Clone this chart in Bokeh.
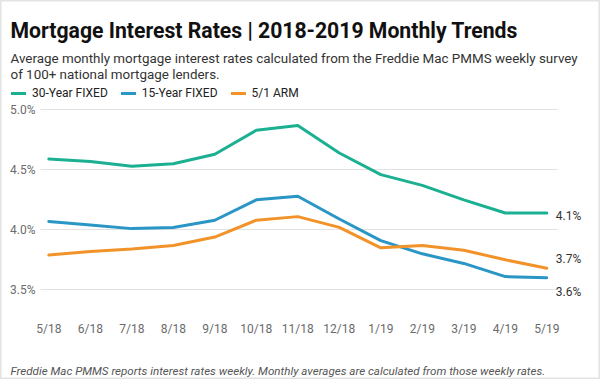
from bokeh.plotting import figure
from bokeh.models import (Label, Legend, LegendItem, FixedTicker, Range1d, ColumnDataSource)
from bokeh.core.properties import value
from bokeh.embed import file_html
from bokeh.resources import INLINE

# ---------------- data ----------------
months = ["5/18", "6/18", "7/18", "8/18", "9/18", "10/18", "11/18",
          "12/18", "1/19", "2/19", "3/19", "4/19", "5/19"]
fixed30 = [4.59, 4.57, 4.53, 4.55, 4.63, 4.83, 4.87, 4.64, 4.46, 4.37, 4.25, 4.14, 4.14]
fixed15 = [4.07, 4.04, 4.01, 4.02, 4.08, 4.25, 4.28, 4.09, 3.91, 3.80, 3.72, 3.61, 3.60]
arm51 = [3.79, 3.82, 3.84, 3.87, 3.94, 4.08, 4.11, 4.02, 3.85, 3.87, 3.83, 3.75, 3.68]
series_names = ["30-Year FIXED", "15-Year FIXED", "5/1 ARM"]
y_ticks = [3.5, 4.0, 4.5, 5.0]
y_tick_labels = [f"{t:.1f}%" for t in y_ticks]

title_text = "Mortgage Interest Rates | 2018-2019 Monthly Trends"
subtitle_lines = ["Average monthly mortgage interest rates calculated from the Freddie Mac PMMS weekly survey",
                  "of 100+ national mortgage lenders."]
footer_text = "Freddie Mac PMMS reports interest rates weekly. Monthly averages are calculated from those weekly rates."

# ---------------- layout / style ----------------
colors = ["#1bb092", "#2996c5", "#f2932a"]
FONT = "Roboto"
W, H = 600, 379
X_RANGE = (-1.164, 13.294)
Y_RANGE = (2.7527, 5.911)
GRID_X = (-0.2, 12.258)            # horizontal extent of the grid lines
AXIS_Y = 3.3277                    # where the month axis sits

x = list(range(len(months)))

p = figure(width=W, height=H, output_backend="svg", toolbar_location=None, title=None,
           x_range=Range1d(*X_RANGE), y_range=Range1d(*Y_RANGE),
           min_border_left=0, min_border_right=0, min_border_top=0, min_border_bottom=0)
p.outline_line_color = "#e3e3e3"
p.outline_line_width = 2
p.background_fill_color = "white"
p.border_fill_color = "white"
p.xgrid.grid_line_color = None
p.ygrid.ticker = FixedTicker(ticks=y_ticks)
p.ygrid.grid_line_color = "#e2e2e2"
p.ygrid.grid_line_width = 1
p.ygrid.cross_bounds = GRID_X
p.yaxis.visible = False

p.xaxis.ticker = FixedTicker(ticks=x)
p.xaxis.major_label_overrides = {i: m for i, m in enumerate(months)}
xa = p.xaxis[0]
xa.fixed_location = AXIS_Y
xa.axis_line_color = None
xa.major_tick_line_color = None
xa.minor_tick_line_color = None
xa.major_tick_out = 0
xa.major_tick_in = 0
xa.major_label_text_font = FONT
xa.major_label_text_font_size = "12px"
xa.major_label_text_color = "#6b6b6b"
xa.major_label_standoff = 12

# y tick labels, placed left of the grid start
ysrc = ColumnDataSource(dict(x=[GRID_X[0]] * len(y_ticks), y=y_ticks, t=y_tick_labels))
p.text(x="x", y="y", text="t", source=ysrc, x_offset=-5, text_align="right", text_baseline="middle",
       text_font=value(FONT), text_font_size="12px", text_color="#6b6b6b")

renderers = []
for vals, c in zip([fixed30, fixed15, arm51], colors):
    r = p.line(x, vals, line_color=c, line_width=3, line_join="round", line_cap="round")
    renderers.append(r)

# end labels
offsets = [-3, -14, 9]
for vals, off in zip([fixed30, fixed15, arm51], offsets):
    p.add_layout(Label(x=x[-1], y=vals[-1], text=f"{vals[-1]:.1f}%", x_offset=9, y_offset=off,
                       text_font=FONT, text_font_size="12px", text_color="#333",
                       text_baseline="middle", text_align="left"))

legend = Legend(items=[LegendItem(label=n, renderers=[r]) for n, r in zip(series_names, renderers)],
                location=(11, H - 99.7), orientation="horizontal",
                glyph_width=15, glyph_height=14, label_height=14, label_standoff=6, spacing=13,
                padding=0, margin=0, border_line_alpha=0, background_fill_alpha=0,
                label_text_font=FONT, label_text_font_size="12px", label_text_color="#222")
p.add_layout(legend)


def screen_label(rx, ry, text, **kw):
    p.add_layout(Label(x=rx, y=H - ry, x_units="screen", y_units="screen", text=text,
                       text_font=FONT, text_baseline="alphabetic", **kw))


screen_label(10, 30, title_text, text_font_size="21.2px", text_font_style="bold", text_color="#111")
screen_label(10, 57.5, subtitle_lines[0], text_font_size="13.4px", text_color="#333")
screen_label(10, 73.5, subtitle_lines[1], text_font_size="13.4px", text_color="#333")
screen_label(10, 370, footer_text, text_font_size="11.6px", text_font_style="italic", text_color="#555")

open("out.html", "w").write(file_html(p, INLINE))
